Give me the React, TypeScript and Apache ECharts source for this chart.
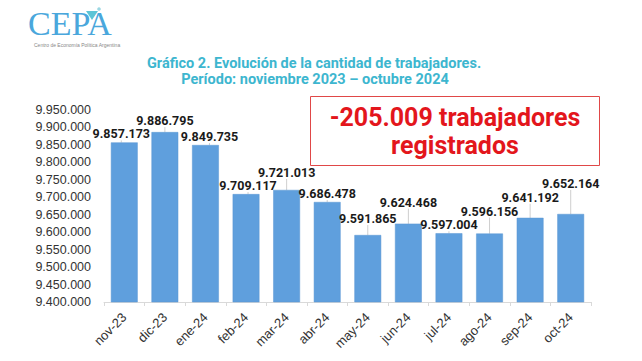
import React, { useEffect, useRef } from "react";
import * as echarts from "echarts";

const categories = ["nov-23", "dic-23", "ene-24", "feb-24", "mar-24", "abr-24", "may-24", "jun-24", "jul-24", "ago-24", "sep-24", "oct-24"];
const workers = [9857173, 9886795, 9849735, 9709117, 9721013, 9686478, 9591865, 9624468, 9597004, 9596156, 9641192, 9652164];
const labelLift = [0, -3, 0, 0, -9, 0, -8, -13, 0, -14, -12, -22];
const labelShift = [-3, 0, 4, 2, 0, 0, 0, 0, 0, 0, 0, 0];
const yMin = 9400000;
const yMax = 9950000;
const yStep = 50000;
const titleLines = ["Gráfico 2. Evolución de la cantidad de trabajadores.", "Período: noviembre 2023 – octubre 2024"];
const calloutLines = ["-205.009 trabajadores", "registrados"];

const fmt = (v: number) => String(Math.round(v)).replace(/\B(?=(\d{3})+(?!\d))/g, ".");

export default function App() {
  const ref = useRef<HTMLDivElement>(null);
  useEffect(() => {
    if (!ref.current) return;
    const chart = echarts.init(ref.current, null, { renderer: "svg" });
    chart.setOption({
      animation: false,
      backgroundColor: "#ffffff",
      grid: { left: 104, right: 51, top: 110, bottom: 59 },
      xAxis: {
        type: "category",
        data: categories,
        axisLine: { lineStyle: { color: "#d9d9d9" } },
        axisTick: { show: true, lineStyle: { color: "#d9d9d9" }, length: 4 },
        axisLabel: { rotate: 45, color: "#333", fontSize: 13, fontFamily: "Liberation Sans", margin: 13, interval: 0 },
      },
      yAxis: {
        type: "value",
        min: yMin,
        max: yMax,
        interval: yStep,
        axisLine: { show: false },
        axisTick: { show: false },
        splitLine: { show: false },
        axisLabel: { color: "#333", fontSize: 12.5, fontFamily: "Liberation Sans", margin: 13, formatter: (v: number) => fmt(v) },
      },
      series: [
        {
          type: "bar",
          data: workers,
          barWidth: "66%",
          itemStyle: { color: "#5f9fdd", borderColor: "#5a96d2", borderWidth: 0.5 },
          label: {
            show: true,
            position: "top",
            distance: 2,
            color: "#1a1a1a",
            fontSize: 12.5,
            fontWeight: "bold",
            fontFamily: "Roboto",
            formatter: (p: any) => fmt(p.value),
          },
          labelLayout: (p: any) => ({ dy: labelLift[p.dataIndex], dx: labelShift[p.dataIndex] }),
          labelLine: { show: true, lineStyle: { color: "#cfcfcf", width: 1 } },
        },
      ],
      graphic: [
        {
          type: "text",
          left: 28,
          top: 6,
          style: { text: "CEPA", fontSize: 34, fontFamily: "Liberation Serif", fill: "#4aa7dc", fontWeight: "normal" },
        },
        {
          type: "polygon",
          shape: { points: [[86, 11], [98, 11], [92, 20]] },
          style: { fill: "#5cc4d6" },
        },
        {
          type: "circle",
          shape: { cx: 99, cy: 9, r: 1.8 },
          style: { fill: "#9bd7e2" },
        },
        {
          type: "text",
          left: 34,
          top: 42,
          style: { text: "Centro de Economía Política Argentina", fontSize: 5, fontFamily: "Liberation Sans", fill: "#888" },
        },
        {
          type: "text",
          x: 314,
          y: 63,
          style: { text: titleLines[0], fontSize: 14.5, fontWeight: "bold", fontFamily: "Roboto", fill: "#3db6cf", align: "center", verticalAlign: "middle" },
        },
        {
          type: "text",
          x: 315,
          y: 79,
          style: { text: titleLines[1], fontSize: 14.5, fontWeight: "bold", fontFamily: "Roboto", fill: "#3db6cf", align: "center", verticalAlign: "middle" },
        },
        {
          type: "rect",
          shape: { x: 310.5, y: 96.5, width: 289, height: 69 },
          style: { fill: "#ffffff", stroke: "#e04848", lineWidth: 1 },
        },
        {
          type: "text",
          x: 455,
          y: 117,
          style: { text: calloutLines[0], fontSize: 25, fontWeight: "bold", fontFamily: "Roboto", fill: "#e3161c", align: "center", verticalAlign: "middle" },
        },
        {
          type: "text",
          x: 455,
          y: 145,
          style: { text: calloutLines[1], fontSize: 25, fontWeight: "bold", fontFamily: "Roboto", fill: "#e3161c", align: "center", verticalAlign: "middle" },
        },
      ],
    });
    return () => chart.dispose();
  }, []);
  return <div ref={ref} style={{ position: "fixed", left: 0, top: 0, width: 642, height: 361 }} />;
}
